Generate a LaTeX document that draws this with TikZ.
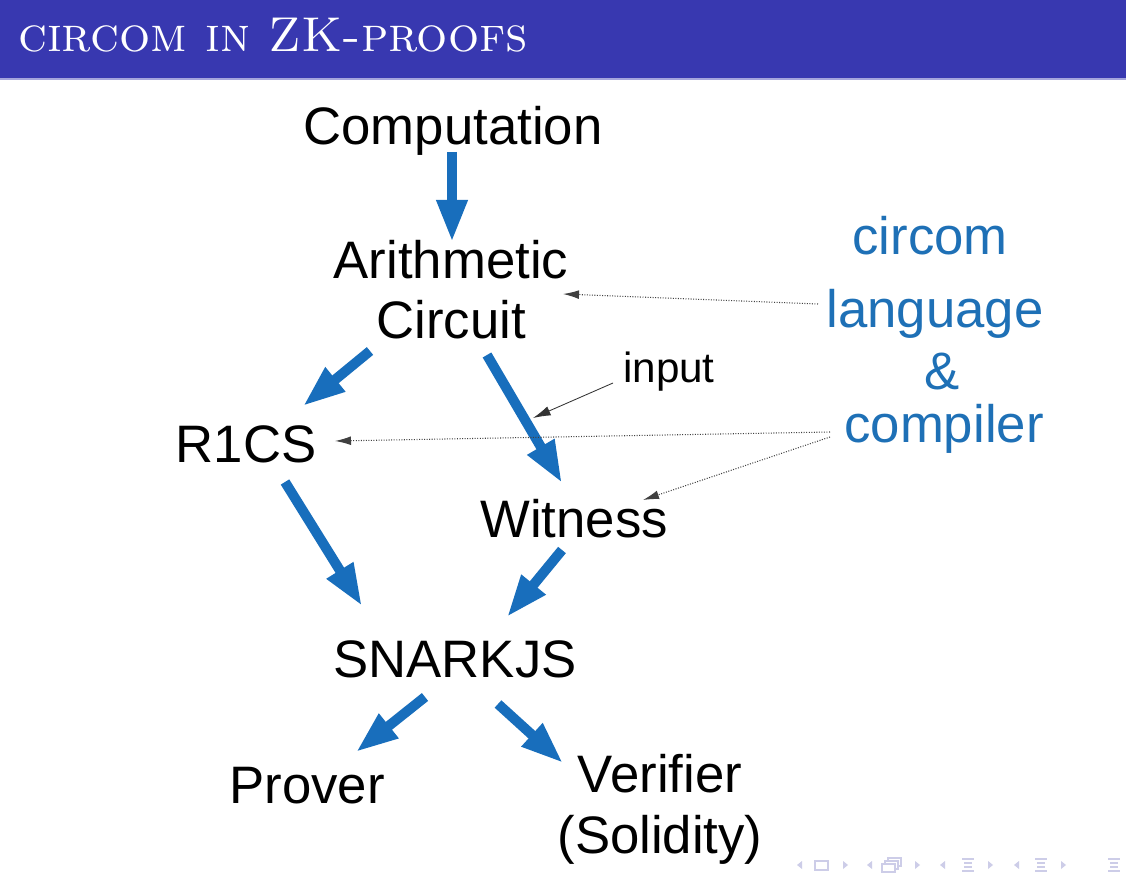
\documentclass[tikz,border=0pt]{standalone}
\usepackage{fontspec}
\usetikzlibrary{arrows.meta}
\newfontfamily\diagfont{Liberation Sans}
\definecolor{titleblue}{RGB}{56,56,176}
\definecolor{arrowblue}{RGB}{24,110,188}
\definecolor{textblue}{RGB}{30,112,182}
\definecolor{navcol}{RGB}{205,205,232}

\begin{document}
\begin{tikzpicture}[
      x=0.025cm, y=-0.025cm,
      every node/.style={font=\diagfont\fontsize{37.5}{42.7}\selectfont, align=center, inner sep=0pt, anchor=base},
      titletext/.style={font=\normalfont\fontsize{34.8}{40}\selectfont, text=white, anchor=base west},
      bluetext/.style={text=textblue},
      smalltext/.style={font=\diagfont\fontsize{30}{34}\selectfont},
      bigarrow/.style={draw=arrowblue, line width=0.25cm, -{Triangle[length=1.05cm,width=0.72cm]}},
      dotarrow/.style={draw=black!75, line width=0.75pt, dash pattern=on 0.7pt off 1.1pt, -{Latex[length=0.4cm,width=0.22cm]}},
      thinarrow/.style={draw=black!80, line width=0.6pt, -{Latex[length=0.44cm,width=0.24cm]}}
   ]
   \useasboundingbox[fill=white] (0,0) rectangle (1126,878);

   % title bar
   \fill[titleblue] (0,0) rectangle (1126,78);
   \fill[titleblue!45] (0,78) rectangle (1126,80);
   \node[titletext] (title) at (18,52) {\textsc{circom in ZK-proofs}};

   % diagram
   \node (comp) at (453,145) {Computation};
   \node (arith) at (451,339) {Arithmetic\\Circuit};
   \node (rics) at (246,463) {R1CS};
   \node (wit) at (574,538) {Witness};
   \node (snark) at (455,677) {SNARKJS};
   \node (prover) at (307,803) {Prover};
   \node (verif) at (660,853) {Verifier\\(Solidity)};
   \node[smalltext] (input) at (669,383) {input};
   \coordinate (inputtip) at (533,418);

   \node[bluetext] (circom) at (930,255) {circom};
   \node[bluetext] (lang) at (935,328) {language};
   \node[bluetext] (amp) at (942,390) {\&};
   \node[bluetext] (compiler) at (944,443) {compiler};

   \draw[bigarrow] ([shift={(-1,7)}]comp.base) -- ([shift={(1,-97)}]arith.base);
   \draw[bigarrow] ([shift={(-81,12)}]arith.base) -- ([shift={(57,-57)}]rics.base);
   \draw[bigarrow] ([shift={(36,16)}]arith.base) -- ([shift={(-12,-55)}]wit.base);
   \draw[bigarrow] ([shift={(39,19)}]rics.base) -- ([shift={(-93,-71)}]snark.base);
   \draw[bigarrow] ([shift={(-12,12)}]wit.base) -- ([shift={(52,-60)}]snark.base);
   \draw[bigarrow] ([shift={(-30,20)}]snark.base) -- ([shift={(49,-51)}]prover.base);
   \draw[bigarrow] ([shift={(43,27)}]snark.base) -- ([shift={(-97,-90)}]verif.base);

   \draw[dotarrow] ([shift={(-117,-24)}]lang.base) -- ([shift={(112,-45)}]arith.base);
   \draw[dotarrow] ([shift={(-114,-11)}]compiler.base) -- ([shift={(89,-22)}]rics.base);
   \draw[dotarrow] ([shift={(-114,-6)}]compiler.base) -- ([shift={(69,-38)}]wit.base);
   \draw[thinarrow] ([shift={(-56,0)}]input.base) -- (inputtip);

   % navigation symbols
   \foreach \x in {800,870,943,1017}
      \fill[navcol] (\x-3,865) -- (\x+2,861) -- (\x+2,869) -- cycle;
   \foreach \x in {845,917,990,1063}
      \fill[navcol] (\x+3,865) -- (\x-2,861) -- (\x-2,869) -- cycle;
   \draw[navcol, line width=0.8pt] (815,861) rectangle (828,870);
   \foreach \d in {0,3,6}
      \draw[navcol, line width=0.8pt, fill=white] (888-\d,858+\d) rectangle (901-\d,866+\d);
   \foreach \x in {962,1035,1108}{
      \draw[navcol, line width=0.8pt] (\x,859) -- (\x+12,859);
      \draw[navcol, line width=0.8pt] (\x+2,863) -- (\x+10,863);
      \draw[navcol, line width=0.8pt] (\x+2,867) -- (\x+10,867);
      \draw[navcol, line width=0.8pt] (\x,871) -- (\x+12,871);
   }
\end{tikzpicture}
\end{document}
